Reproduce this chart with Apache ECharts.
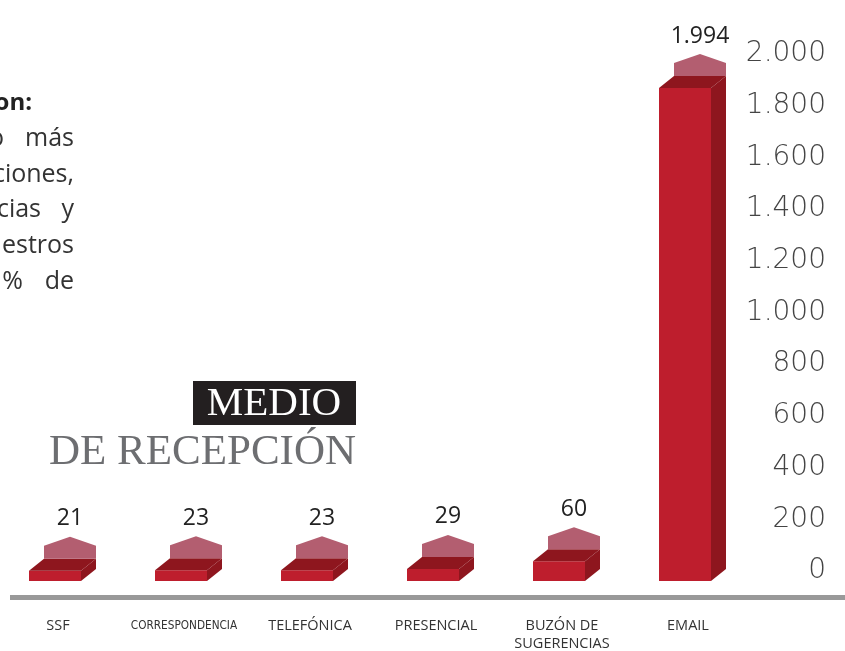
<!DOCTYPE html>
<html><head><meta charset="utf-8">
<script src="https://cdn.jsdelivr.net/npm/echarts@6/dist/echarts.min.js"></script>
<style>html,body{margin:0;padding:0;background:#fff}#c{width:845px;height:651px}</style>
</head><body><div id="c"></div>
<script>
const categories = ['SSF', 'CORRESPONDENCIA', 'TELEFÓNICA', 'PRESENCIAL', 'BUZÓN DE\nSUGERENCIAS', 'EMAIL'];
const values = [21, 23, 23, 29, 60, 1994];
const tickMin = 0, tickMax = 2000, tickStep = 200;
// intro paragraph (cut off at the left edge): [leading words, last word]
const introHeading = 'Los medios más utilizados fueron:';
const introLines = [
  ['el medio', 'más'],
  ['', 'reclamaciones,'],
  ['sugerencias', 'y'],
  ['', 'de nuestros'],
  ['el 91%', 'de']
];
const titleTop = 'MEDIO';
const titleBottom = 'DE RECEPCIÓN';

function fmt(n) { return String(n).replace(/\B(?=(\d{3})+(?!\d))/g, '.'); }

const chart = echarts.init(document.getElementById('c'), null, {renderer: 'canvas'});

function renderItem(params, api) {
  const i = api.value(0), v = api.value(1);
  const top = api.coord([i, v]);
  const base = api.coord([i, 0]);
  const w = 52, dx = 15, dy = 12, lift = 5;
  const x0 = top[0] - 3 - w / 2;
  const yB = base[1], yT = top[1] - lift;
  const back = yT - dy;
  const roofTop = back - 13, peak = back - 22;
  return {
    type: 'group',
    children: [
      {type: 'polygon', shape: {points: [[x0 + w, yT], [x0 + w + dx, back], [x0 + w + dx, yB - dy], [x0 + w, yB]]}, style: {fill: '#8e161e'}},
      {type: 'rect', shape: {x: x0, y: yT, width: w, height: yB - yT}, style: {fill: '#be1e2d'}},
      {type: 'polygon', shape: {points: [[x0, yT], [x0 + dx, back], [x0 + w + dx, back], [x0 + w, yT]]}, style: {fill: '#8e161e'}},
      {type: 'polygon', shape: {points: [[x0 + dx, back], [x0 + dx, roofTop], [x0 + dx + w / 2, peak], [x0 + dx + w, roofTop], [x0 + dx + w, back]]}, style: {fill: '#b35e70'}},
      {type: 'text', style: {text: fmt(v), x: x0 + dx + w / 2, y: peak - 18, align: 'center', verticalAlign: 'middle', textAlign: 'center', textVerticalAlign: 'middle', fill: '#222', font: '23px "Open Sans"'}}
    ]
  };
}

function txt(t, x, y, align, font, fill) {
  return {type: 'text', style: {text: t, x: x, y: y, align: align, textAlign: align, verticalAlign: 'middle', textVerticalAlign: 'middle', fill: fill, font: font}};
}

const graphics = [];
const bodyFont = '25px "Open Sans"';
graphics.push(txt(introHeading, 32, 103, 'right', 'bold 24px "Open Sans"', '#222'));
const leadRight = [4, 0, 41, 0, 23];
introLines.forEach((pair, k) => {
  const y = 139 + k * 35.6;
  graphics.push(txt(pair[1], 74, y, 'right', bodyFont, '#333'));
  if (pair[0]) graphics.push(txt(pair[0], leadRight[k], y, 'right', bodyFont, '#333'));
});
graphics.push({type: 'rect', shape: {x: 193, y: 381, width: 163, height: 44}, style: {fill: '#231f20'}});
graphics.push(txt(titleTop, 274, 404, 'center', '41px "Liberation Serif"', '#fff'));
graphics.push(txt(titleBottom, 356, 453, 'right', '43px "Liberation Serif"', '#6d6e71'));
graphics.push({type: 'rect', shape: {x: 10, y: 595, width: 835, height: 5}, style: {fill: '#999'}});

chart.setOption({
  animation: false,
  backgroundColor: '#fff',
  grid: [
    {left: -5, right: 94, top: 93, bottom: 70, outerBoundsMode: 'none', containLabel: false},
    {left: -5, right: 94, top: 54, bottom: 80, outerBoundsMode: 'none', containLabel: false}
  ],
  xAxis: [
    {type: 'category', gridIndex: 0, data: categories,
     axisLine: {show: false}, axisTick: {show: false},
     axisLabel: {interval: 0, margin: 36, verticalAlign: 'top', lineHeight: 18, color: '#333', fontSize: 14.5, fontFamily: 'Open Sans',
       formatter: v => v === 'CORRESPONDENCIA' ? '{n|' + v + '}' : v,
       rich: {n: {fontFamily: 'DejaVu Sans Condensed', fontSize: 11.7, color: '#333', lineHeight: 18}}}},
    {type: 'category', gridIndex: 1, data: categories, show: false}
  ],
  yAxis: [
    {type: 'value', gridIndex: 0, min: 0, max: 'dataMax', show: false},
    {type: 'value', gridIndex: 1, position: 'right', min: tickMin, max: tickMax, interval: tickStep,
     axisLine: {show: false}, axisTick: {show: false}, splitLine: {show: false},
     axisLabel: {margin: 75, align: 'right', color: '#444', fontSize: 28, fontFamily: 'DejaVu Sans', fontWeight: 200, formatter: v => fmt(v)}}
  ],
  series: [{
    type: 'custom', xAxisIndex: 0, yAxisIndex: 0, clip: false,
    renderItem: renderItem,
    encode: {x: 0, y: 1},
    data: values.map((v, i) => [i, v])
  }],
  graphic: graphics
});
</script>
</body></html>
